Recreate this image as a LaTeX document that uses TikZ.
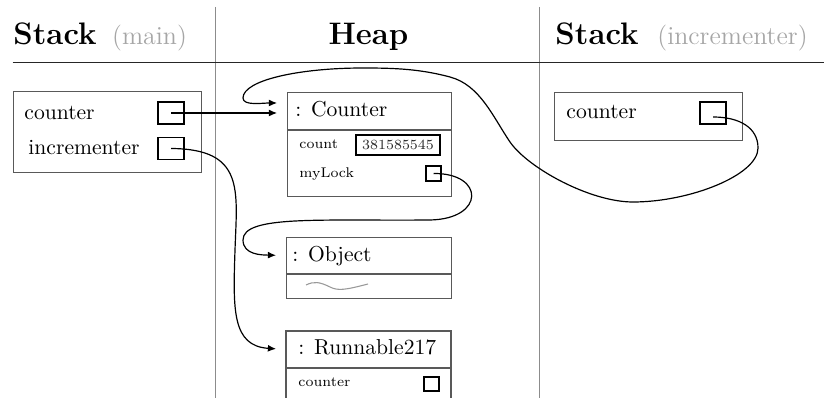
\documentclass[tikz,border=0pt]{standalone}
\usetikzlibrary{arrows.meta,calc}
\newcommand\pxu{0.463pt}
\begin{document}
\begin{tikzpicture}[x=0.463pt,y=-0.463pt,
  frame/.style={draw=black!65, line width=0.6pt, inner sep=0pt, anchor=north west},
  sepline/.style={draw=black!65, line width=0.6pt},
  ptr/.style={draw=black, line width=0.9pt, inner sep=0pt},
  lbl/.style={inner sep=0pt, anchor=base west},
  title/.style={inner sep=0pt, font=\fontsize{14.4}{17}\selectfont\bfseries},
  sub/.style={inner sep=0pt, anchor=base west, text=black!35, font=\fontsize{12}{14}\selectfont},
  small/.style={inner sep=0pt, anchor=base west, font=\fontsize{6.5}{8}\selectfont},
  ref/.style={line width=0.55pt, -{Latex[length=3.8pt,width=3.2pt]}, shorten >=4.6pt},
  divider/.style={draw=black!45, line width=0.45pt},
]
\useasboundingbox (0,0) rectangle (824,398);

% column dividers and header rule
\path[divider] (215,7) -- (215,398);
\path[divider] (539,7) -- (539,398);
\draw[line width=0.7pt, black!85] (12.7,62.5) -- (824,62.5);

% headers
\node[title, anchor=base west] (stackmain) at (13,44.5) {Stack};
\node[sub] (mainlbl) at (111.7,44.5) {(main)};
\node[title, anchor=base] (heap) at (368.5,44.5) {Heap};
\node[title, anchor=base west] (stackinc) at (555,44.5) {Stack};
\node[sub] (inclbl) at (657,44.5) {(incrementer)};

% stack frame of main
\node[frame, minimum width=188*\pxu, minimum height=81*\pxu] (mainframe) at (13,91) {};
\node[lbl] (mcounter) at (24,120) {counter};
\node[lbl] (mincr) at (28,155) {incrementer};
\node[ptr, minimum width=26*\pxu, minimum height=22*\pxu] (mainctr) at (171,113) {};
\node[ptr, minimum width=26*\pxu, minimum height=22*\pxu] (mainincr) at (171,148.5) {};

% heap: Counter object
\node[frame, minimum width=164*\pxu, minimum height=104*\pxu] (counterobj) at (287,92) {};
\coordinate (counterhd) at (287,111);
\path[sepline] (287,130) -- (counterobj.east |- 0,130);
\node[lbl] (countertitle) at (295,117) {: Counter};
\node[small] (countlbl) at (299,149) {count};
\node[ptr, minimum width=84*\pxu, minimum height=20*\pxu, font=\fontsize{6.5}{8}\selectfont, text=black!85] (countval) at (398,145) {381585545};
\node[small] (locklbl) at (299,177.5) {myLock};
\node[ptr, minimum size=15*\pxu] (lockptr) at (433.5,173.5) {};

% heap: Object
\node[frame, minimum width=165*\pxu, minimum height=61*\pxu] (objectobj) at (286,237) {};
\coordinate (objecthd) at (286,255.5);
\path[sepline] (286,274) -- (objectobj.east |- 0,274);
\node[lbl] (objecttitle) at (292,262) {: Object};
\draw[black!40, line width=0.5pt] (306,285) .. controls (314,281) and (320,282) .. (330,287)
  .. controls (338,291) and (345,290) .. (368,284);

% heap: Runnable217 (continues below the lower edge)
\path[sepline] (286,400) -- (286,331) -- (451,331) -- (451,400);
\path[sepline] (286,368) -- (451,368);
\coordinate (runhd) at (286,349.5);
\node[lbl] (runtitle) at (298,355) {: Runnable217};
\node[small] (runlbl) at (298,387) {counter};
\node[ptr, minimum width=15*\pxu, minimum height=14*\pxu] (runctr) at (431.5,383.7) {};

% stack frame of incrementer
\node[frame, minimum width=188*\pxu, minimum height=48*\pxu] (incframe) at (554,92) {};
\node[lbl] (icounter) at (566,119) {counter};
\node[ptr, minimum width=26*\pxu, minimum height=22*\pxu] (incctr) at (713,113) {};

% references
\draw[ref] (mainctr.center) -- (mainctr.center -| counterhd);
\draw[ref] (mainincr.center) .. controls (245,149) and (237,190) .. (235,250)
  .. controls (233,310) and (232,346) .. (runhd);
\draw[ref] (lockptr.center) .. controls (485,173) and (485,219) .. (430,220)
  .. controls (320,221) and (243,215) .. (243,240)
  .. controls (243,255) and (262,255) .. (objecthd);
\draw[ref] ($(incctr.center)+(0,4)$) .. controls (740,117) and (758,128) .. (758,148)
  .. controls (758,175) and (690,202) .. (633,202)
  .. controls (590,202) and (528,168) .. (510,142)
  .. controls (493,117) and (480,85) .. (450,77)
  .. controls (420,69) and (395,68) .. (363,68)
  .. controls (300,68) and (243,80) .. (243,98)
  .. controls (243,106) and (262,103) .. ($(counterhd)+(0,-8)$);
\end{tikzpicture}
\end{document}
